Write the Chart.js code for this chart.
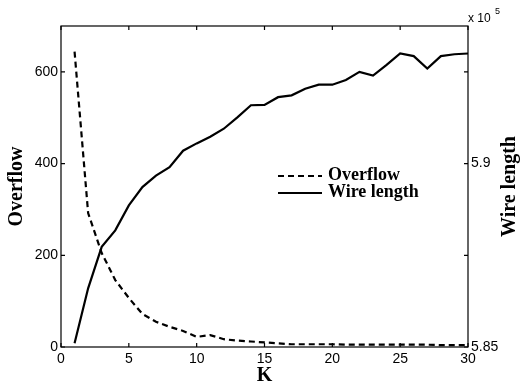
<!DOCTYPE html>
<html>
<head>
<meta charset="utf-8">
<script src="https://cdn.jsdelivr.net/npm/chart.js@4.4.1/dist/chart.umd.min.js"></script>
<style>
  html, body { margin: 0; padding: 0; background: #fff; }
</style>
</head>
<body>
<canvas id="myChart" width="522" height="383"></canvas>
<script>
// K values and the two series
var kValues = [1, 2, 3, 4, 5, 6, 7, 8, 9, 10, 11, 12, 13, 14, 15,
  16, 17, 18, 19, 20, 21, 22, 23, 24, 25, 26, 27, 28, 29, 30];
var overflow = [644, 292, 205, 146, 107, 72, 55, 44, 35, 22, 26, 17, 14, 12, 10,
  8, 6, 6, 6, 6, 5, 5, 5, 5, 5, 5, 5, 4, 4, 4];
// wire length in units of 10^5
var wireLength = [5.8510, 5.8660, 5.8773, 5.8818, 5.8886, 5.8936, 5.8967, 5.8990, 5.9035, 5.9055,
  5.9073, 5.9095, 5.9126, 5.9159, 5.9160, 5.9181, 5.9186, 5.9204, 5.9215, 5.9215,
  5.9228, 5.9250, 5.9240, 5.9269, 5.9300, 5.9293, 5.9259, 5.9293, 5.9298, 5.9300];

var xTicks = [0, 5, 10, 15, 20, 25, 30];
var leftTicks = [0, 200, 400, 600];
var rightTicks = [5.85, 5.875, 5.9, 5.925];
var rightTickLabels = ["5.85", "", "5.9", ""];

var tickFont = { family: "'Liberation Sans', Arial, sans-serif", size: 14 };
var serifBold = "'Liberation Serif', 'Times New Roman', serif";

function pts(ys) {
  var out = [];
  kValues.forEach(function (k, i) { out.push({ x: k, y: ys[i] }); });
  return out;
}

function setTicks(list) {
  return function (scale) {
    scale.ticks = list.map(function (v) { return { value: v }; });
  };
}

var decorPlugin = {
  id: "decor",
  afterDraw: function (chart) {
    var ctx = chart.ctx, a = chart.chartArea;
    var sx = chart.scales.x, sy = chart.scales.y, sy1 = chart.scales.y1;
    ctx.save();
    ctx.strokeStyle = "#000";
    ctx.lineWidth = 1.2;
    ctx.strokeRect(a.left, a.top, a.right - a.left, a.bottom - a.top);

    // inward tick marks
    ctx.beginPath();
    sx.ticks.forEach(function (t) {
      var px = sx.getPixelForValue(t.value);
      ctx.moveTo(px, a.bottom); ctx.lineTo(px, a.bottom - 4);
      ctx.moveTo(px, a.top); ctx.lineTo(px, a.top + 4);
    });
    sy.ticks.forEach(function (t) {
      var py = sy.getPixelForValue(t.value);
      ctx.moveTo(a.left, py); ctx.lineTo(a.left + 4, py);
    });
    sy1.ticks.forEach(function (t) {
      var py = sy1.getPixelForValue(t.value);
      ctx.moveTo(a.right, py); ctx.lineTo(a.right - 4, py);
    });
    ctx.stroke();

    // right axis title, reading bottom to top
    ctx.fillStyle = "#000";
    ctx.font = "bold 20px " + serifBold;
    ctx.textAlign = "center";
    ctx.textBaseline = "middle";
    ctx.save();
    ctx.translate(510, (a.top + a.bottom) / 2);
    ctx.rotate(-Math.PI / 2);
    ctx.fillText("Wire length", 0, 0);
    ctx.restore();

    // exponent label
    ctx.font = "12px 'Liberation Sans', Arial, sans-serif";
    ctx.textAlign = "left";
    ctx.textBaseline = "alphabetic";
    ctx.fillText("x 10", a.right, 22);
    ctx.font = "9px 'Liberation Sans', Arial, sans-serif";
    ctx.fillText("5", a.right + 27, 14);

    // legend
    ctx.font = "bold 18px " + serifBold;
    ctx.textBaseline = "middle";
    chart.data.datasets.forEach(function (ds, i) {
      var y = 176 + i * 17;
      ctx.beginPath();
      ctx.lineWidth = ds.borderWidth;
      ctx.setLineDash(ds.borderDash || []);
      ctx.moveTo(278, y);
      ctx.lineTo(322, y);
      ctx.stroke();
      ctx.setLineDash([]);
      ctx.fillText(ds.label, 328, y - 1);
    });
    ctx.restore();
  }
};

var ctx = document.getElementById("myChart").getContext("2d");
var myChart = new Chart(ctx, {
  type: "line",
  data: {
    datasets: [
      {
        label: "Overflow",
        data: pts(overflow),
        yAxisID: "y",
        borderColor: "#000",
        borderWidth: 2.2,
        borderDash: [6, 4],
        pointRadius: 0,
        tension: 0,
        fill: false
      },
      {
        label: "Wire length",
        data: pts(wireLength),
        yAxisID: "y1",
        borderColor: "#000",
        borderWidth: 2.2,
        pointRadius: 0,
        tension: 0,
        fill: false
      }
    ]
  },
  options: {
    responsive: false,
    animation: false,
    devicePixelRatio: 1,
    layout: { padding: { top: 26, left: 0, right: 0, bottom: 0 } },
    plugins: {
      legend: { display: false },
      tooltip: { enabled: false }
    },
    scales: {
      x: {
        type: "linear",
        min: 0,
        max: 30,
        afterBuildTicks: setTicks(xTicks),
        afterFit: function (s) { s.height = 36; },
        grid: { display: false, drawTicks: false },
        border: { display: false },
        ticks: { color: "#000", font: tickFont, padding: 4, maxRotation: 0 },
        title: {
          display: true,
          text: "K",
          color: "#000",
          font: { family: serifBold, size: 20, weight: "bold", lineHeight: 0.7 },
          padding: { top: 0, bottom: 0 }
        }
      },
      y: {
        position: "left",
        min: 0,
        max: 700,
        afterBuildTicks: setTicks(leftTicks),
        afterFit: function (s) { s.width = 61; },
        grid: { display: false, drawTicks: false },
        border: { display: false },
        ticks: { color: "#000", font: tickFont, padding: 3 },
        title: {
          display: true,
          text: "Overflow",
          color: "#000",
          font: { family: serifBold, size: 20, weight: "bold", lineHeight: 1.2 },
          padding: { top: 5, bottom: 0 }
        }
      },
      y1: {
        position: "right",
        min: 5.85,
        max: 5.9375,
        afterBuildTicks: setTicks(rightTicks),
        afterFit: function (s) { s.width = 54; },
        grid: { display: false, drawTicks: false },
        border: { display: false },
        ticks: {
          color: "#000",
          font: tickFont,
          padding: 3,
          callback: function (v, i) { return rightTickLabels[i]; }
        }
      }
    }
  },
  plugins: [decorPlugin]
});
</script>
</body>
</html>
